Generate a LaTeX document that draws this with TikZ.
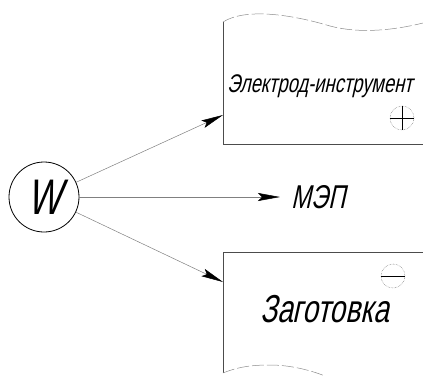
\documentclass[tikz,border=0pt]{standalone}
\usepackage{fontspec}
\newfontfamily\gost[FakeSlant=0.22,FakeStretch=0.72]{Liberation Sans}
\usetikzlibrary{arrows.meta, positioning}

\begin{document}
\begin{tikzpicture}[x=1pt, y=-1pt, >={Stealth[length=22pt,width=8pt,inset=4pt,color=black]},
    wire/.style={->, draw=black!50, line width=0.5pt},
    border/.style={draw=black!70, line width=0.9pt},
    cut/.style={draw=black!45, line width=0.5pt, dash pattern=on 12pt off 3pt},
    sign/.style={circle, draw=black!55, densely dotted, line width=0.5pt, minimum size=24pt, inner sep=0pt},
    lbl/.style={inner sep=0pt, font=\gost\fontsize{30}{34}\selectfont}]

    \useasboundingbox (0,0) rectangle (423,376);

    % source
    \node[circle, draw, line width=0.8pt, minimum size=70pt, inner sep=0pt,
          font=\gost\fontsize{50}{54}\selectfont] (gen) at (44,197) {W};

    % tool (upper piece)
    \draw[border] (223,22) -- (223,144) -- (423,144);
    \draw[cut] (223,22) .. controls (245,8) and (290,14) .. (330,26)
                        .. controls (360,34) and (395,30) .. (423,23);
    \coordinate (tool) at (223,115);
    \node[lbl, anchor=base west, font=\gost\fontsize{25.5}{29}\selectfont] (toolname) at (227,92) {Электрод-инструмент};
    \node[sign] (plus) at (402,118) {};
    \draw (plus.north) -- (plus.south);
    \draw (plus.west) -- (plus.east);

    % workpiece (lower piece)
    \draw[border] (423,252) -- (223,252) -- (223,373);
    \draw[cut] (223,373) .. controls (240,366) and (255,365) .. (270,365)
                         .. controls (290,365) and (310,370) .. (325,376);
    \coordinate (work) at (223,282);
    \node[lbl, anchor=base west, font=\gost\fontsize{39}{42}\selectfont] (workname) at (260,322) {Заготовка};
    \node[sign] (minus) at (393,276) {};
    \draw[line width=0.8pt] (minus.west) -- (minus.east);

    % gap
    \node[lbl, anchor=west, inner xsep=11pt, font=\gost\fontsize{33}{36}\selectfont] (mep) at (280,197) {МЭП};

    \draw[wire] (gen) -- (tool);
    \draw[wire] (gen) -- (mep);
    \draw[wire] (gen) -- (work);
\end{tikzpicture}
\end{document}
